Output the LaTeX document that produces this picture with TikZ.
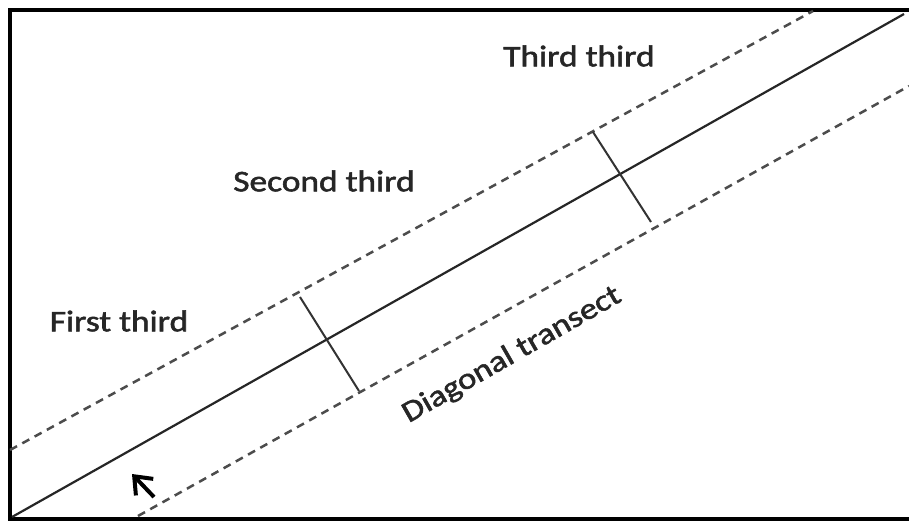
\documentclass[tikz,border=0pt]{standalone}
\usepackage{fontspec}
\setmainfont{Carlito}[FakeBold=1.6]
\usetikzlibrary{arrows.meta}
\begin{document}
\begin{tikzpicture}[x=1pt,y=-1pt,
  frame/.style={draw=black,line width=4.5pt},
  axisline/.style={draw=black!85,line width=2.2pt},
  bandline/.style={draw=black!70,line width=2.5pt,dash pattern=on 8pt off 6pt},
  tickline/.style={draw=black!80,line width=2pt},
  lbl/.style={font=\fontsize{30}{34}\selectfont,text=black!85,inner sep=0pt},
  pointer/.style={draw=black,line width=4pt,-{Straight Barb[length=15pt,width=24pt,line width=4pt]}}]
\useasboundingbox (0,0) rectangle (909,523);
\fill[white] (0,0) rectangle (909,523);
\draw[frame] (10,10) rectangle (915,519);
% axis and band
\coordinate (sA) at (12,517);
\coordinate (sB) at (904,14);
\coordinate (uA) at (10,450);
\coordinate (uB) at (813,11);
\coordinate (lA) at (138,516);
\coordinate (lB) at (909,86);
\draw[axisline] (sA) -- (sB);
\draw[bandline] (uA) -- (uB);
\draw[bandline] (lA) -- (lB);
% ticks
\coordinate (t1a) at (300,297);
\coordinate (t1b) at (359,391);
\coordinate (t2a) at (593,132);
\coordinate (t2b) at (651,222);
\draw[tickline] (t1a) -- (t1b);
\draw[tickline] (t2a) -- (t2b);
% arrow
\coordinate (arT) at (154,497);
\coordinate (arH) at (132,474);
\draw[pointer] (arT) -- (arH);
% labels
\node[lbl,xscale=1.18] (third) at (579,56) {Third third};
\node[lbl,xscale=1.18] (second) at (324,181) {Second third};
\node[lbl,xscale=1.18] (first) at (119,321) {First third};
\node[lbl,rotate=29.8,xscale=1.16] (diag) at (512,355) {Diagonal transect};
\end{tikzpicture}
\end{document}
